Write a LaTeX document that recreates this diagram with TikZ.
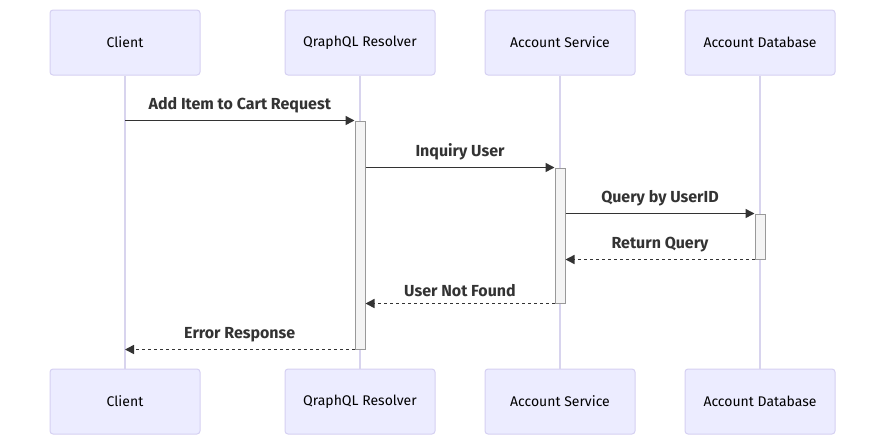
\documentclass[tikz,border=0pt]{standalone}
\usepackage{fontspec}
\setmainfont{Fira Sans}
\usetikzlibrary{arrows.meta}
\definecolor{actorfill}{HTML}{ECECFF}
\definecolor{actorline}{HTML}{D5D0F2}
\definecolor{lifeline}{HTML}{D8D4EE}
\definecolor{msgcol}{HTML}{333333}
\definecolor{actfill}{HTML}{F4F4F4}
\definecolor{actline}{HTML}{999999}
\begin{document}
\begin{tikzpicture}[x=1pt,y=-1pt]
\tikzstyle{actor}=[rectangle,rounded corners=3pt,draw=actorline,fill=actorfill,line width=1pt,minimum width=150pt,minimum height=65pt,font=\fontsize{14pt}{16pt}\selectfont,text=black]
\tikzstyle{life}=[draw=lifeline,line width=1.3pt]
\tikzstyle{act}=[rectangle,draw=actline,fill=actfill,line width=1pt,minimum width=10pt,inner sep=0pt]
\tikzstyle{msg}=[draw=msgcol,line width=1.5pt,-{Triangle[length=9pt,width=9pt]}]
\tikzstyle{reply}=[msg,dash pattern=on 3pt off 3pt]
\tikzstyle{lbl}=[text=msgcol,font=\fontsize{16pt}{18pt}\selectfont\bfseries,above=3pt,midway]
\useasboundingbox (0,0) rectangle (885,445);
\node [actor] (c1) at (125,42.5) {Client};
\node [actor] (r1) at (360,42.5) {QraphQL Resolver};
\node [actor] (s1) at (560,42.5) {Account Service};
\node [actor] (d1) at (760,42.5) {Account Database};
\node [actor] (c2) at (125,401.5) {Client};
\node [actor] (r2) at (360,401.5) {QraphQL Resolver};
\node [actor] (s2) at (560,401.5) {Account Service};
\node [actor] (d2) at (760,401.5) {Account Database};
\draw [life] (c1) -- (c2);
\draw [life] (r1) -- (r2);
\draw [life] (s1) -- (s2);
\draw [life] (d1) -- (d2);
\node [act,minimum height=228pt] (a1) at (360,235) {};
\node [act,minimum height=135pt] (a2) at (560,235.5) {};
\node [act,minimum height=45pt] (a3) at (760,236.5) {};
\draw [msg] (c1 |- a1.north) -- node [lbl] {Add Item to Cart Request} (a1.north west);
\draw [msg] (a1.east |- a2.north) -- node [lbl] {Inquiry User} (a2.north west);
\draw [msg] (a2.east |- a3.north) -- node [lbl] {Query by UserID} (a3.north west);
\draw [reply] (a3.south west) -- node [lbl] {Return Query} (a2.east |- a3.south);
\draw [reply] (a2.south west) -- node [lbl] {User Not Found} (a1.east |- a2.south);
\draw [reply] (a1.south west) -- node [lbl] {Error Response} (c1 |- a1.south);
\end{tikzpicture}
\end{document}
